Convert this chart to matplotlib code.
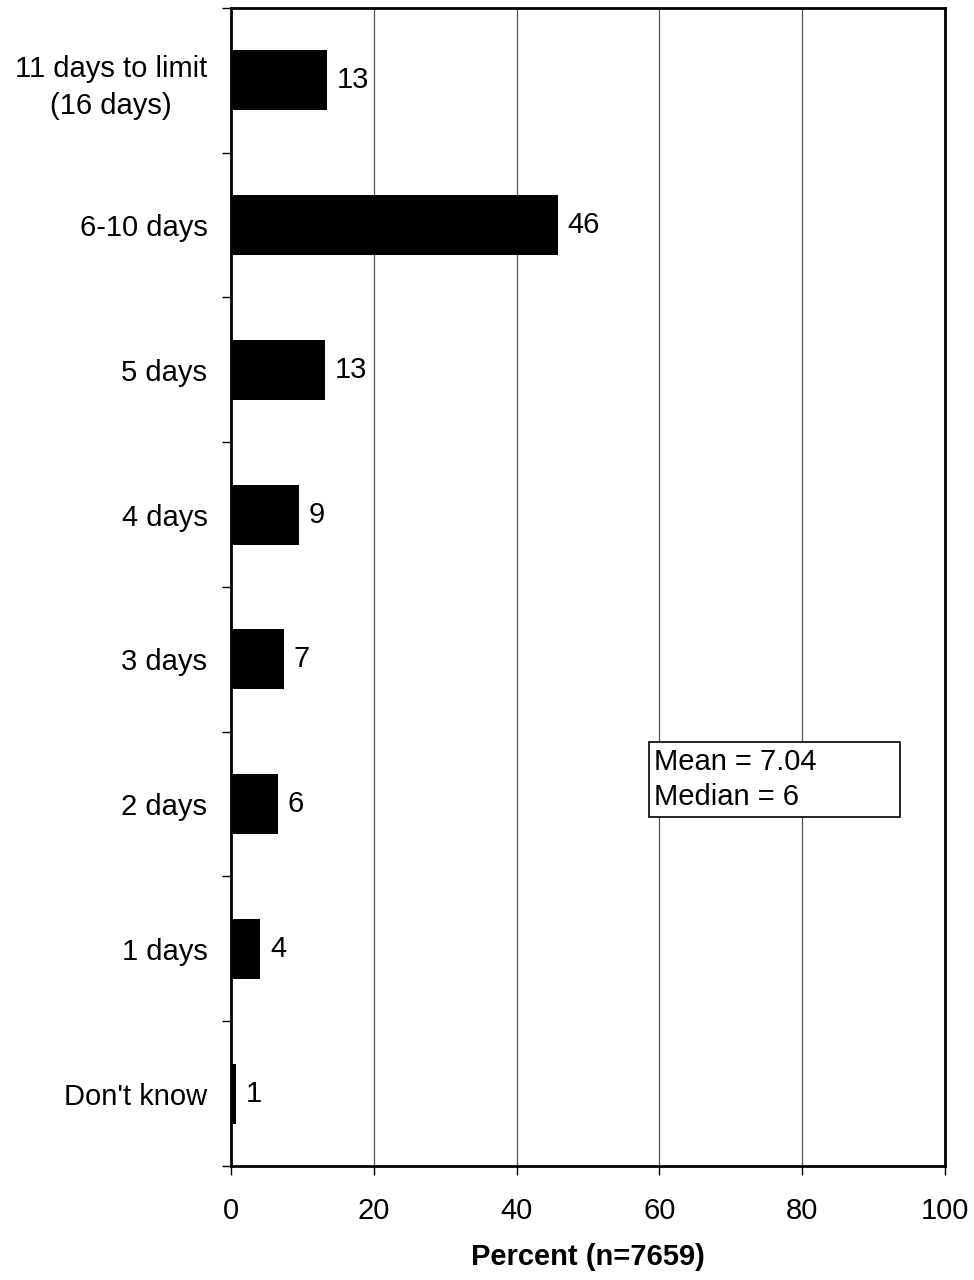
import numpy as np
import matplotlib.pyplot as plt
from matplotlib.patches import Rectangle
from matplotlib.ticker import FixedLocator

plt.rcParams['font.family'] = ['Liberation Sans', 'DejaVu Sans']

# data, top to bottom
categories = ['11 days to limit\n(16 days)', '6-10 days', '5 days', '4 days',
              '3 days', '2 days', '1 days', "Don't know"]
values = [13.4, 45.8, 13.2, 9.5, 7.4, 6.6, 4.1, 0.7]
value_labels = ['13', '46', '13', '9', '7', '6', '4', '1']
stats_text = 'Mean = 7.04\nMedian = 6'
xlabel = 'Percent (n=7659)'

fs = 21

fig = plt.figure(figsize=(9.74, 12.8), dpi=100)
ax = fig.add_axes([0.2372, 0.0891, 0.733, 0.9047])

y = np.arange(len(categories))
ax.barh(y, values, height=0.415, color='black', zorder=3)

for yi, v, lab in zip(y, values, value_labels):
    ax.annotate(lab, (v, yi), xytext=(7, 0), textcoords='offset points',
                va='center', ha='left', fontsize=fs)

ax.set_xlim(0, 100)
ax.set_ylim(len(categories) - 0.5, -0.5)
ax.set_xticks([0, 20, 40, 60, 80, 100])
ax.tick_params(axis='x', labelsize=fs, length=6.5, width=1, direction='out', pad=16)

ax.set_yticks(y)
ax.set_yticklabels(categories, fontsize=fs, multialignment='center', linespacing=1.38)
ax.tick_params(axis='y', which='major', length=0, pad=17)
ax.yaxis.set_minor_locator(FixedLocator(np.arange(-0.5, len(categories), 1.0)))
ax.tick_params(axis='y', which='minor', length=6.5, width=1, direction='out')

ax.grid(axis='x', color='#555555', linewidth=0.9, zorder=0)
for s in ax.spines.values():
    s.set_linewidth(2)
    s.set_zorder(4)

ax.set_xlabel(xlabel, fontsize=fs, fontweight='bold', labelpad=13)

# stats box
ax.add_patch(Rectangle((58.5, 4.571), 35.2, 0.518, facecolor='white',
                       edgecolor='black', linewidth=1.2, zorder=5))
ax.text(59.2, 4.83, stats_text, fontsize=fs, va='center', ha='left',
        linespacing=1.32, zorder=6)

fig.savefig('out.png', dpi=100)
